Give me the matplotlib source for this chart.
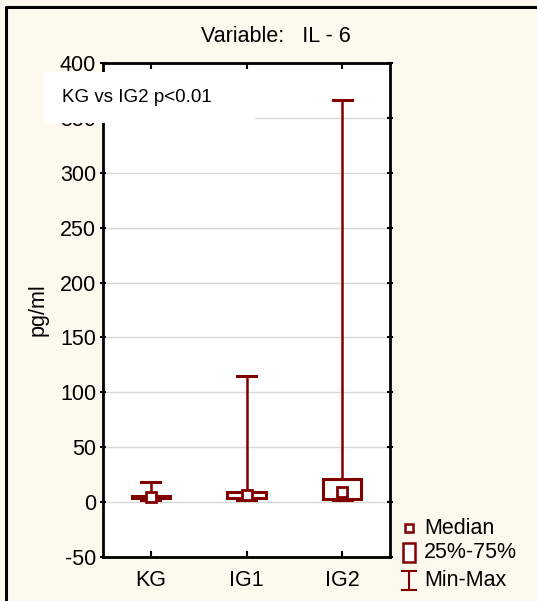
import matplotlib
matplotlib.use("Agg")
import matplotlib.pyplot as plt
from matplotlib.patches import Rectangle
from matplotlib.lines import Line2D

plt.rcParams['font.family'] = ['Liberation Sans', 'DejaVu Sans']
plt.rcParams['axes.unicode_minus'] = False

groups = ["KG", "IG1", "IG2"]
minimum = [2, 2, 2]
q1 = [3.5, 4, 3]
median = [5, 6.5, 9]
q3 = [6, 9, 21]
maximum = [18, 115, 366]
yticks = [-50, 0, 50, 100, 150, 200, 250, 300, 350, 400]

dark_red = "#800000"
cream = "#FDF9EE"

fig = plt.figure(figsize=(5.37, 6.01), dpi=100, facecolor=cream)
W, H = 537, 601
ax = fig.add_axes([103 / W, 1 - 557 / H, (390 - 103) / W, (557 - 63) / H])
ax.set_facecolor("white")

pos = list(range(1, len(groups) + 1))
box_w = 0.40
cap_w = 0.20

for x, lo, a, m, b, hi in zip(pos, minimum, q1, median, q3, maximum):
    ax.plot([x, x], [b, hi], color=dark_red, lw=1.8, zorder=3, solid_capstyle="butt")
    ax.plot([x, x], [lo, a], color=dark_red, lw=1.8, zorder=3, solid_capstyle="butt")
    ax.plot([x - cap_w / 2, x + cap_w / 2], [hi, hi], color=dark_red, lw=2.2, zorder=3)
    ax.plot([x - cap_w / 2, x + cap_w / 2], [lo, lo], color=dark_red, lw=2.2, zorder=3)
    ax.add_patch(Rectangle((x - box_w / 2, a), box_w, b - a, facecolor="white",
                           edgecolor=dark_red, lw=2.2, zorder=4))
    ax.plot([x], [m], marker="s", ms=7, mfc="white", mec=dark_red, mew=2, zorder=5)

ax.set_xlim(0.5, 3.5)
ax.set_ylim(-50, 400)
ax.set_xticks(pos)
ax.set_xticklabels(groups)
ax.set_yticks(yticks)
ax.yaxis.grid(True, color="#d8d8d8", lw=1)
ax.set_axisbelow(True)
ax.tick_params(axis="both", labelsize=15.5, colors="black", length=4, width=1.5)
ax.tick_params(axis="y", direction="inout", right=True, pad=3)
ax.tick_params(axis="x", direction="in", top=True, pad=9)
for s in ax.spines.values():
    s.set_linewidth(2)
ax.set_ylabel("pg/ml", fontsize=15.5, labelpad=8)

fig.text(276 / W, 1 - 37 / H, "Variable:   IL - 6", ha="center", va="center", fontsize=15.5)

# annotation panel
fig.patches.append(Rectangle((45 / W, 1 - 123 / H), 210 / W, 51 / H, transform=fig.transFigure,
                             facecolor="white", edgecolor="none", zorder=10))
fig.text(62 / W, 1 - 97 / H, "KG vs IG2 p<0.01", ha="left", va="center", fontsize=13.5, zorder=11)

# legend
fig.add_artist(Line2D([409 / W], [1 - 528 / H], marker="s", ms=6, mfc="white", mec=dark_red,
                      mew=1.8, transform=fig.transFigure))
fig.patches.append(Rectangle((403 / W, 1 - 562 / H), 12 / W, 19 / H, transform=fig.transFigure,
                             facecolor="white", edgecolor=dark_red, lw=1.8))
fig.add_artist(Line2D([409 / W, 409 / W], [1 - 571 / H, 1 - 590 / H], color=dark_red, lw=1.5,
                      transform=fig.transFigure))
for yy in (571, 590):
    fig.add_artist(Line2D([402 / W, 416 / W], [1 - yy / H, 1 - yy / H], color=dark_red, lw=1.5,
                          transform=fig.transFigure))
for yy, txt in [(528, "Median"), (553, "25%-75%"), (580, "Min-Max")]:
    fig.text(424 / W, 1 - yy / H, txt, ha="left", va="center", fontsize=15.5)

# outer frame
fig.add_artist(Line2D([6 / W, 6 / W, 1.0], [0, 1 - 6.5 / H, 1 - 6.5 / H], color="black", lw=2.2,
                      transform=fig.transFigure))

fig.savefig("out.png", dpi=100, facecolor=cream)
